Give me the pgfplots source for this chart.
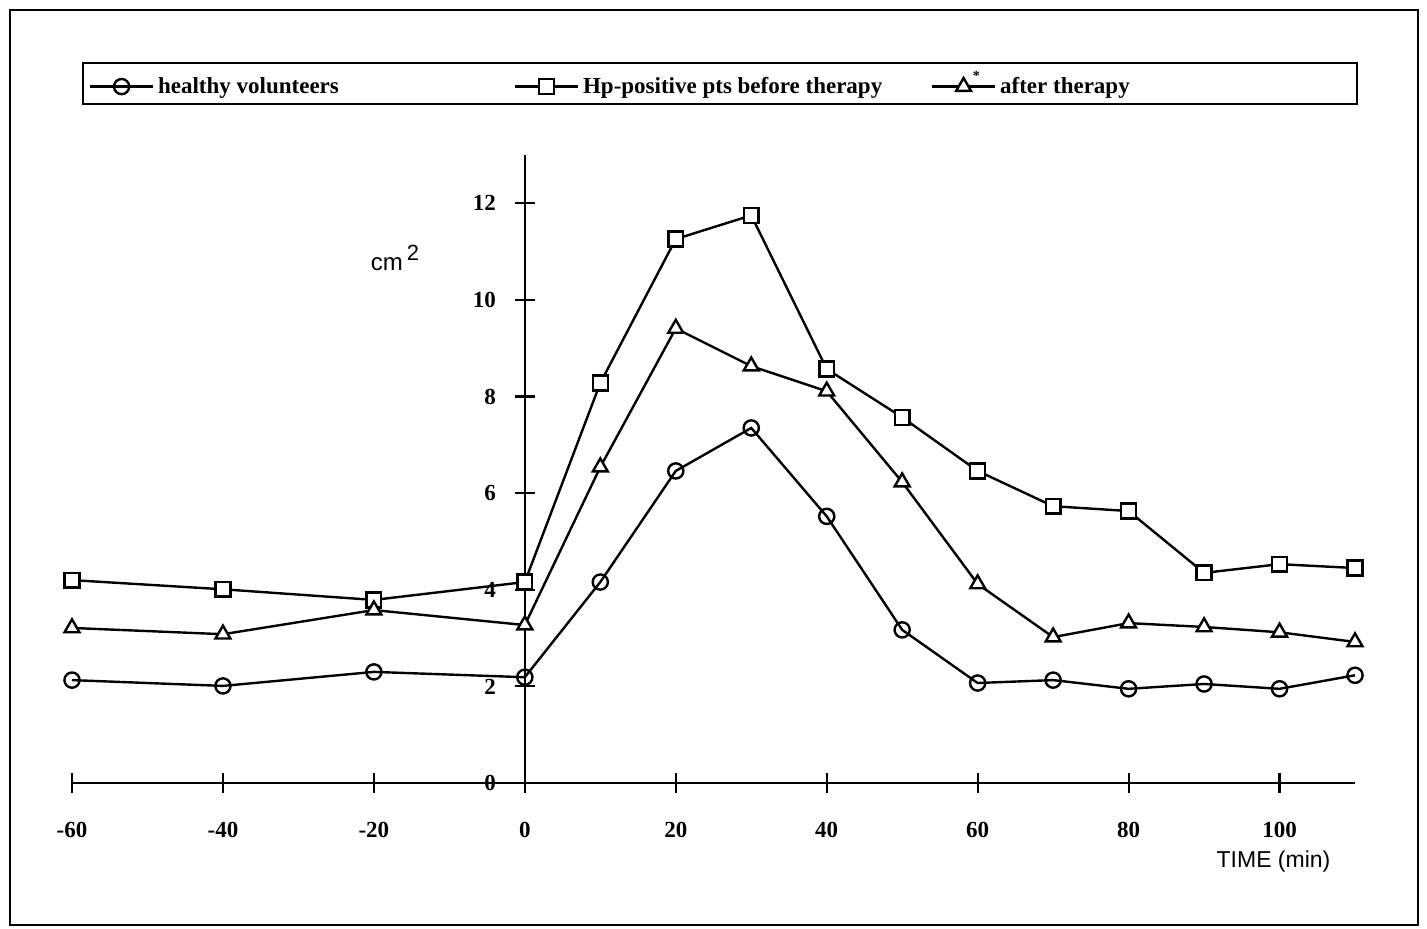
\documentclass[border=0pt]{standalone}
\usepackage{pgfplots}
\pgfplotsset{compat=1.18}
\usepackage{fontspec}
\setmainfont{Liberation Serif}
\newfontfamily\arial{Liberation Sans}

\begin{document}
\begin{tikzpicture}[x=1pt,y=1pt]
\path (0,0) rectangle (713.5,464);
\draw[line width=1.2pt] (5,1.5) rectangle (709,459);
\begin{axis}[
  at={(36pt,72.5pt)}, anchor=south west,
  scale only axis, width=641.5pt, height=314pt,
  xmin=-60, xmax=110, ymin=0, ymax=13,
  axis lines=middle,
  axis line style={-, line width=1.1pt},
  hide obscured x ticks=false, hide obscured y ticks=false,
  xtick={-60,-40,...,100}, ytick={0,2,...,12},
  tick align=center, major tick length=10pt,
  tick style={black, line width=1.1pt},
  /pgf/number format/assume math mode=true,
  ticklabel style={font=\bfseries\fontsize{11.5}{13}\selectfont},
  xticklabel style={yshift=-11pt},
  yticklabel style={xshift=-6pt},
  clip=false,
  every axis plot/.append style={black, line width=1.2pt},
  legend image code/.code={\draw[mark repeat=2,mark phase=2] plot coordinates {(0cm,0cm)(0.55cm,0cm)(1.1cm,0cm)};},
  legend style={at={(0.0078,1.148)}, anchor=north west, legend columns=3,
    draw=black, line width=1.1pt, font=\bfseries\fontsize{11.5}{13}\selectfont,
    cells={anchor=west}},
]
\addplot[mark=o, mark size=3.8pt, mark options={fill=white}] coordinates {
(-60,2.13) (-40,2.01) (-20,2.30) (0,2.19) (10,4.16) (20,6.46) (30,7.35)
(40,5.52) (50,3.17) (60,2.07) (70,2.13) (80,1.95) (90,2.05) (100,1.95) (110,2.23)
};
\addlegendentry{\makebox[176pt][l]{healthy volunteers}}
\addplot[mark=square*, mark size=3.7pt, mark options={fill=white}] coordinates {
(-60,4.20) (-40,4.01) (-20,3.79) (0,4.16) (10,8.28) (20,11.26) (30,11.75)
(40,8.57) (50,7.57) (60,6.46) (70,5.73) (80,5.63) (90,4.35) (100,4.53) (110,4.45)
};
\addlegendentry{\makebox[172pt][l]{Hp-positive pts before therapy}}
\addplot[mark=triangle*, mark size=4.3pt, mark options={fill=white},
  legend image code/.code={\draw[mark repeat=2,mark phase=2] plot coordinates {(0cm,0cm)(0.55cm,0cm)(1.1cm,0cm)};
    \path (0.69cm,0.32cm);
    \node[inner sep=0pt, font=\bfseries\fontsize{7}{7}\selectfont] at (0.69cm,0.16cm) {*};}] coordinates {
(-60,3.21) (-40,3.08) (-20,3.58) (0,3.27) (10,6.54) (20,9.41) (30,8.63)
(40,8.11) (50,6.23) (60,4.12) (70,3.02) (80,3.31) (90,3.23) (100,3.12) (110,2.92)
};
\addlegendentry{\makebox[173.5pt][l]{after therapy}}
\node[font=\arial\fontsize{12}{14}\selectfont] at (axis cs:-17.2,10.86) {cm\,\raisebox{5pt}{\fontsize{11}{12}\selectfont 2}};
\node[font=\arial\fontsize{11.5}{14}\selectfont] at (axis cs:99.2,-1.63) {TIME (min)};
\end{axis}
\end{tikzpicture}
\end{document}
